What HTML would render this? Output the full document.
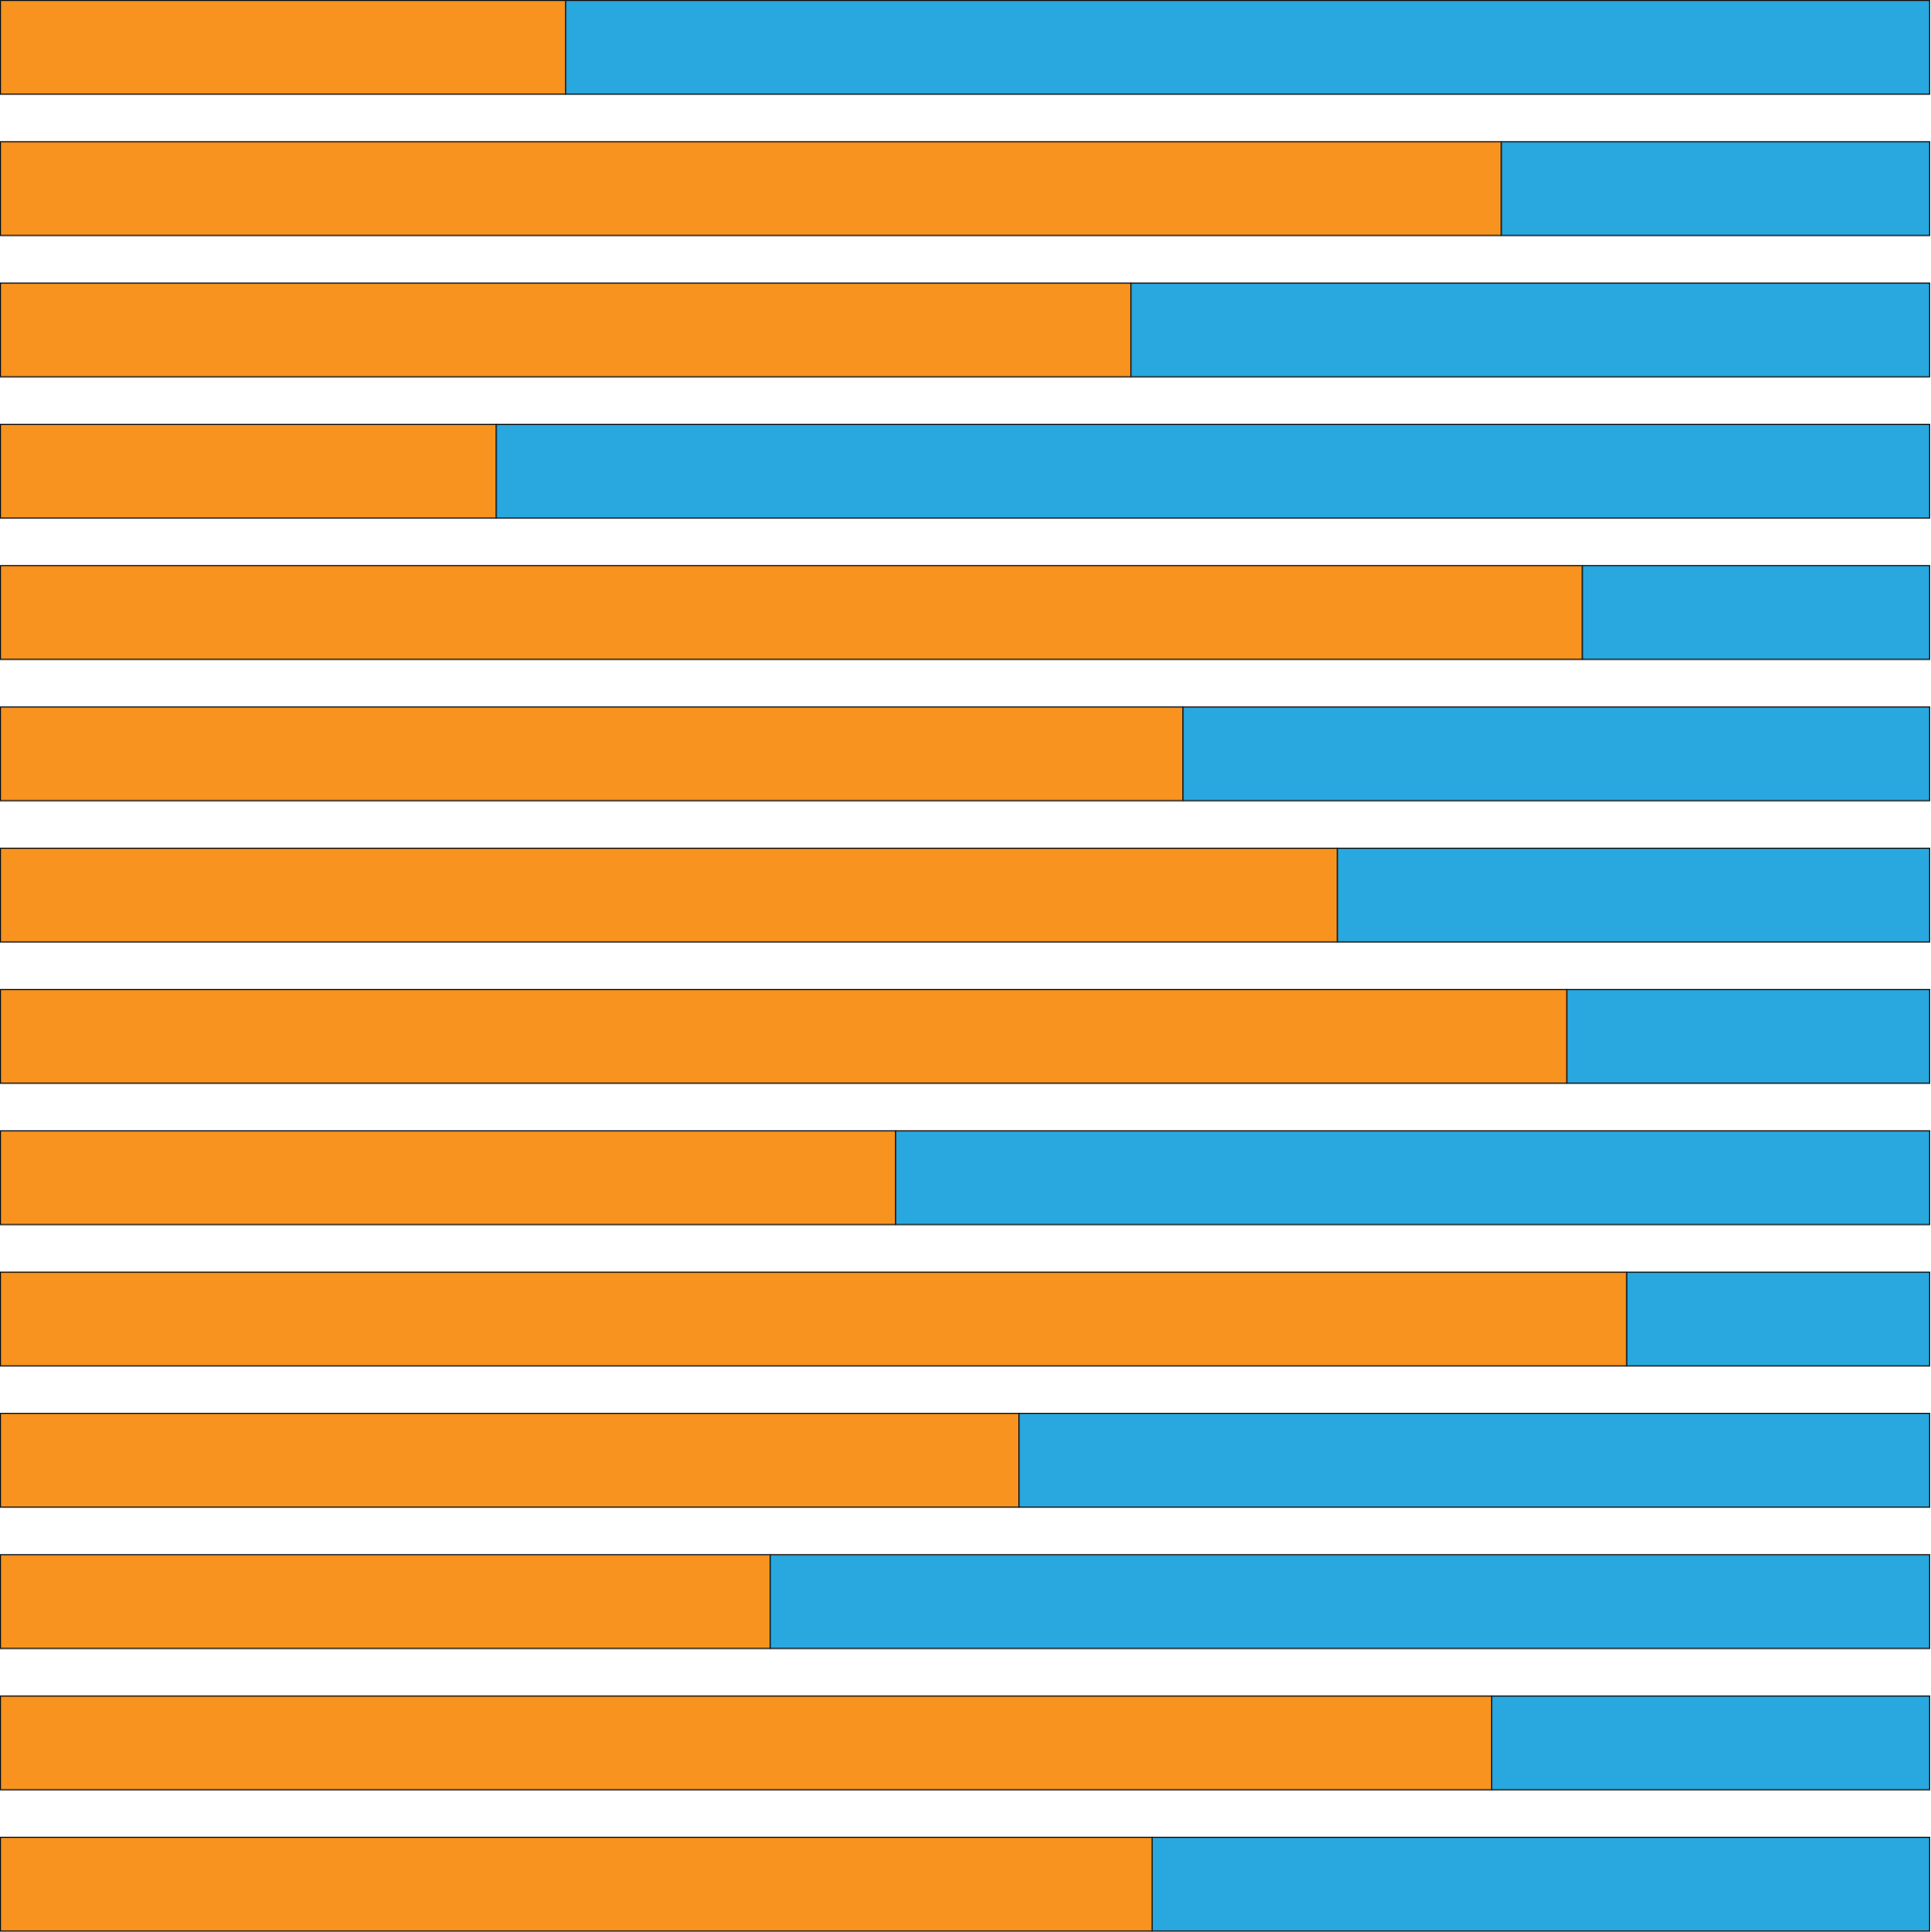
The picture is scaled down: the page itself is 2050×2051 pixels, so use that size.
<!DOCTYPE html>
<html><head><meta charset="utf-8"><style>html,body{margin:0;padding:0;background:#fff}svg{display:block}</style></head>
<body>
<svg id="chart" width="2050" height="2051" viewBox="0 0 2050 2051" xmlns="http://www.w3.org/2000/svg"></svg>
<script>
const categories = ["r1","r2","r3","r4","r5","r6","r7","r8","r9","r10","r11","r12","r13","r14"];
const orangeValues = [29.3,77.8,58.6,25.7,82.0,61.3,69.3,81.2,46.4,84.3,52.8,39.9,77.3,59.7];
const blueValues = orangeValues.map(v => 100 - v);
const svg = document.getElementById('chart');
const NS = 'http://www.w3.org/2000/svg';
const x0 = 0.5, plotW = 2048;
const xScale = v => v / 100 * plotW;
const yScale = i => 0.5 + i * 150;
const barH = 99.5;
function rect(x, y, w, fill, name) {
  const r = document.createElementNS(NS, 'rect');
  r.setAttribute('x', x); r.setAttribute('y', y);
  r.setAttribute('width', w); r.setAttribute('height', barH);
  r.setAttribute('fill', fill); r.setAttribute('stroke', '#1a1a1a'); r.setAttribute('stroke-width', '1.3');
  
  
  svg.appendChild(r);
}
categories.forEach((c, i) => {
  const wo = xScale(orangeValues[i]);
  const wb = xScale(blueValues[i]);
  rect(x0, yScale(i), wo, '#f7931e', 'bar-orange-' + c);
  rect(x0 + wo, yScale(i), wb, '#29a8e0', 'bar-blue-' + c);
});
</script>
</body></html>
